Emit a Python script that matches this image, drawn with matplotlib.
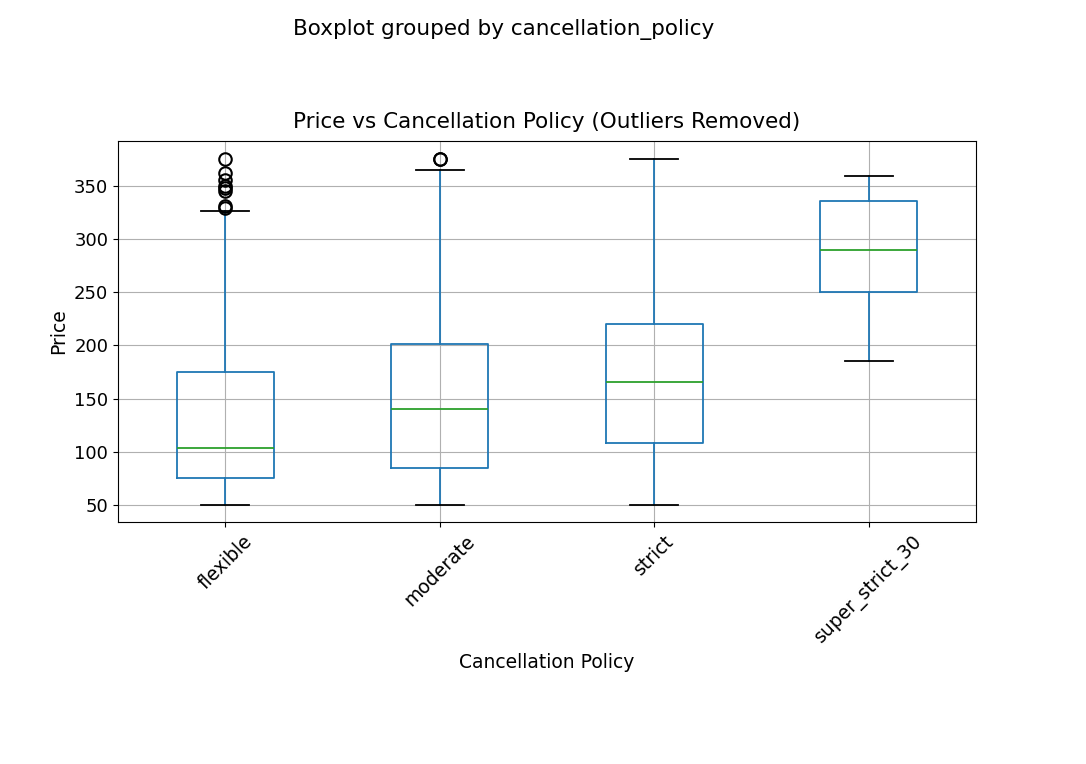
import matplotlib
matplotlib.use("Agg")
import matplotlib.pyplot as plt

categories = ["flexible", "moderate", "strict", "super_strict_30"]
whislo = [50, 50, 50, 185]
q1 = [75, 85, 108, 250]
med = [104, 140, 166, 290]
q3 = [175, 201, 220, 336]
whishi = [326, 365, 375, 359]
fliers = [[329, 331, 345, 348, 350, 355, 362, 375], [375, 375], [], []]

stats = [dict(whislo=a, q1=b, med=c, q3=d, whishi=e, fliers=f, label=l)
         for a, b, c, d, e, f, l in zip(whislo, q1, med, q3, whishi, fliers, categories)]

fig = plt.figure(figsize=(10.86, 7.64), dpi=100)
ax = fig.add_axes([118/1086, 1 - 522/764, (976-118)/1086, (522-141)/764])
lw = 1.3
ax.bxp(stats, widths=0.45,
       boxprops=dict(color="C0", linewidth=lw), whiskerprops=dict(color="C0", linewidth=lw),
       medianprops=dict(color="C2", linewidth=lw), capprops=dict(color="black", linewidth=lw),
       flierprops=dict(marker="o", markeredgecolor="black", markerfacecolor="none",
                       markersize=9, markeredgewidth=1.5))
ax.set_xlim(0.5, 4.5)
ax.set_ylim(34, 392)
ax.grid(True)
ax.set_axisbelow(True)
ax.tick_params(axis="x", rotation=45, labelsize=13.5)
ax.tick_params(axis="y", labelsize=13)
ax.set_title("Price vs Cancellation Policy (Outliers Removed)", fontsize=15.5, pad=9)
ax.set_xlabel("Cancellation Policy", fontsize=13.5)
ax.set_ylabel("Price", fontsize=13.5)
fig.suptitle("Boxplot grouped by cancellation_policy", fontsize=15.5, x=0.464, y=0.975)
fig.savefig("out.png", dpi=100)
